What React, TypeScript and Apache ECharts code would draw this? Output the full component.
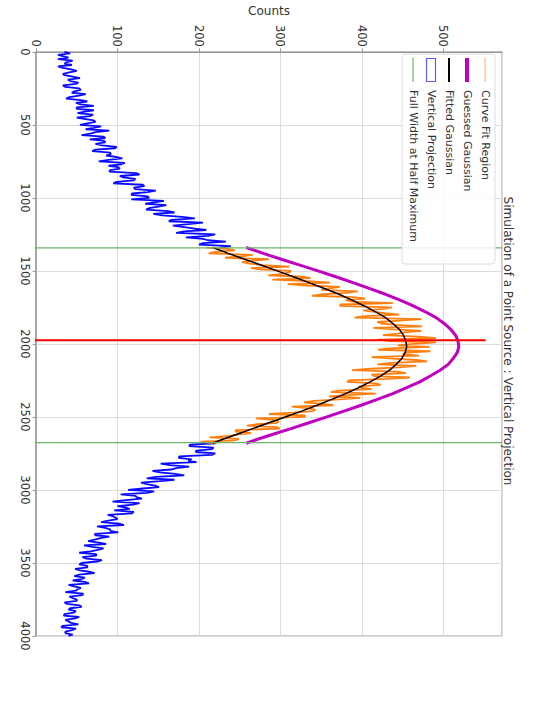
import React, { useEffect, useRef } from "react";
import * as echarts from "echarts";

// Histogram bins (position along the detector) — bin width and start of each region
const BIN_WIDTH = 10;
const LEFT_START = 0;
const FIT_START = 1340;
const RIGHT_START = 2680;

// Vertical projection counts, outside the curve-fit region (blue)
const projectionLeft = [
  35, 42, 27, 33, 40, 27, 45, 38, 35, 44, 27, 33, 43, 50, 41, 33, 35, 45, 54, 39,
  42, 52, 49, 33, 36, 53, 55, 47, 44, 61, 53, 41, 37, 55, 63, 49, 55, 71, 50, 50,
  71, 60, 51, 70, 66, 50, 61, 71, 73, 63, 54, 80, 71, 61, 90, 73, 67, 56, 83, 85,
  66, 84, 85, 73, 81, 99, 97, 73, 69, 91, 92, 86, 99, 106, 89, 77, 109, 105, 89, 101,
  103, 91, 90, 123, 127, 103, 107, 122, 120, 99, 95, 131, 133, 120, 122, 147, 137, 118, 117, 137,
  139, 117, 157, 145, 134, 160, 150, 139, 135, 162, 170, 144, 155, 179, 195, 166, 163, 205, 187, 168,
  182, 195, 209, 182, 172, 220, 211, 184, 205, 211, 233, 205, 200, 239, 226,
];
const projectionRight = [
  221, 189, 188, 218, 216, 197, 196, 220, 216, 176, 175, 191, 187, 197, 153, 164, 188, 172, 166, 143,
  152, 171, 182, 147, 136, 170, 152, 129, 136, 146, 151, 131, 113, 145, 136, 104, 122, 124, 130, 110,
  94, 127, 119, 100, 111, 115, 96, 120, 118, 88, 94, 98, 100, 89, 80, 102, 108, 75, 85, 91,
  91, 101, 72, 73, 90, 79, 72, 64, 77, 86, 59, 69, 83, 76, 67, 53, 74, 74, 57, 62,
  81, 75, 56, 53, 63, 63, 48, 54, 65, 72, 53, 47, 60, 56, 45, 60, 65, 40, 47, 55,
  51, 49, 36, 58, 57, 41, 45, 50, 50, 35, 38, 53, 56, 42, 40, 49, 46, 35, 34, 53,
  48, 36, 40, 43, 52, 33, 31, 49, 44, 36, 36, 45, 40,
];
// Curve fit region counts (orange)
const fitRegion = [
  209, 237, 244, 220, 212, 266, 252, 232, 286, 266, 253, 263, 278, 311, 264, 274, 313, 311, 302, 285,
  328, 337, 290, 334, 361, 309, 333, 373, 360, 350, 395, 380, 352, 339, 390, 404, 380, 388, 438, 374,
  373, 437, 427, 402, 415, 428, 446, 403, 391, 473, 446, 419, 424, 442, 474, 414, 440, 473, 453, 444,
  426, 469, 491, 420, 435, 491, 463, 444, 483, 434, 420, 484, 453, 450, 470, 412, 438, 467, 480, 436,
  419, 467, 445, 411, 388, 443, 454, 412, 415, 459, 431, 384, 382, 417, 423, 396, 400, 412, 372, 362,
  417, 382, 360, 398, 372, 341, 329, 353, 365, 314, 332, 343, 340, 316, 286, 330, 330, 270, 291, 298,
  296, 271, 259, 296, 299, 245, 245, 264, 248, 238, 213, 249, 244, 202, 222,
];

// Gaussian curves
const curvePositions = [
  1340, 1380, 1420, 1460, 1500, 1540, 1580, 1620, 1660, 1700, 1740, 1780,
  1820, 1860, 1900, 1940, 1980, 2020, 2060, 2100, 2140, 2180, 2220, 2260,
  2300, 2340, 2380, 2420, 2460, 2500, 2540, 2580, 2620, 2660, 2680,
];
const fittedGaussian = [
  217, 236, 256, 276, 296, 316, 335, 354, 372, 388, 403, 417,
  429, 438, 446, 451, 454, 455, 453, 449, 442, 434, 423, 410,
  396, 380, 363, 345, 326, 306, 286, 266, 246, 226, 217,
];
const guessedGaussian = [
  258, 279, 301, 324, 346, 368, 389, 409, 429, 447, 463, 478,
  491, 501, 509, 515, 518, 519, 517, 512, 506, 496, 484, 471,
  455, 438, 419, 399, 378, 357, 335, 313, 290, 268, 258,
];

// Markers
const fwhmPositions = [1342, 2676];
const centerPosition = 1975;

const COUNT_MIN = 0;
const COUNT_MAX = 572;
const POS_MIN = 0;
const POS_MAX = 4000;
const COUNT_TICKS = 100;
const POS_TICKS = 500;

const TITLE = "Simulation of a Point Source : Vertical Projection";
const legendItems = [
  "Curve Fit Region",
  "Guessed Gaussian",
  "Fitted Gaussian",
  "Vertical Projection",
  "Full Width at Half Maximum",
];

const FONT = "'DejaVu Sans', sans-serif";

function binPoints(start: number, values: number[]) {
  return values.map((v, i) => [v, start + i * BIN_WIDTH]);
}

export default function App() {
  const ref = useRef<HTMLDivElement>(null);
  useEffect(() => {
    if (!ref.current) return;
    const chart = echarts.init(ref.current, null, { renderer: "svg" });
    const lineBase = { type: "line", showSymbol: false, symbol: "none", silent: true };
    const outside = -44;
    const legendX = [485, 467, 449, 431, 413];
    const graphic: any[] = [
      {
        type: "rect",
        shape: { x: 402, y: 54, width: 93, height: 210, r: 3 },
        style: { fill: "rgba(255,255,255,0.85)", stroke: "#dcdcdc", lineWidth: 1 },
        z: 100,
      },
      { type: "line", shape: { x1: legendX[0], y1: 58, x2: legendX[0], y2: 82 }, style: { stroke: "rgba(255,127,14,0.45)", lineWidth: 1.5 }, z: 101 },
      { type: "line", shape: { x1: legendX[1], y1: 58, x2: legendX[1], y2: 82 }, style: { stroke: "#bf00bf", lineWidth: 4 }, z: 101 },
      { type: "line", shape: { x1: legendX[2], y1: 58, x2: legendX[2], y2: 82 }, style: { stroke: "#000", lineWidth: 2 }, z: 101 },
      { type: "rect", shape: { x: legendX[3] - 4.5, y: 58.5, width: 9, height: 23 }, style: { fill: "none", stroke: "#6060ff", lineWidth: 1.2 }, z: 101 },
      { type: "line", shape: { x1: legendX[4], y1: 58, x2: legendX[4], y2: 82 }, style: { stroke: "#6db36d", lineWidth: 1.2 }, z: 101 },
      ...legendItems.map((t, i) => ({
        type: "text",
        x: legendX[i],
        y: 90,
        rotation: -Math.PI / 2,
        style: { text: t, fontSize: 11, fontFamily: FONT, fill: "#333", align: "left", verticalAlign: "middle" },
        z: 102,
      })),
      {
        type: "text",
        x: 508,
        y: 341,
        rotation: -Math.PI / 2,
        style: { text: TITLE, fontSize: 12, fontFamily: FONT, fill: "#333", align: "center", verticalAlign: "middle" },
        z: 102,
      },
    ];
    const option: any = {
      animation: false,
      textStyle: { fontFamily: FONT },
      grid: { left: 36, top: 47, width: 466, height: 589, show: true, borderColor: "#999", borderWidth: 1 },
      xAxis: {
        type: "value",
        position: "top",
        min: COUNT_MIN,
        max: COUNT_MAX,
        interval: COUNT_TICKS,
        name: "Counts",
        nameLocation: "middle",
        nameGap: 34,
        nameTextStyle: { fontSize: 12, color: "#333", fontFamily: FONT },
        axisLine: { show: true, lineStyle: { color: "#999" } },
        axisTick: { show: true, length: 3.5, lineStyle: { color: "#999" } },
        axisLabel: { rotate: -90, fontSize: 11.5, color: "#333", showMaxLabel: false, margin: 5, fontFamily: FONT, formatter: (v: number) => String(v) },
        splitLine: { show: true, lineStyle: { color: "#dcdcdc" } },
      },
      yAxis: {
        type: "value",
        inverse: true,
        min: POS_MIN,
        max: POS_MAX,
        interval: POS_TICKS,
        axisLine: { show: true, lineStyle: { color: "#999", width: 1.5 } },
        axisTick: { show: true, length: 3.5, lineStyle: { color: "#999" } },
        axisLabel: { rotate: -90, fontSize: 11.5, color: "#333", margin: 5, fontFamily: FONT, formatter: (v: number) => String(v) },
        splitLine: { show: true, lineStyle: { color: "#dcdcdc" } },
      },
      graphic,
      series: [
        { ...lineBase, name: "Vertical Projection", data: binPoints(LEFT_START, projectionLeft), lineStyle: { color: "#0a0aff", width: 1.8 }, z: 2 },
        { ...lineBase, name: "Vertical Projection R", data: binPoints(RIGHT_START, projectionRight), lineStyle: { color: "#0a0aff", width: 1.8 }, z: 2 },
        { ...lineBase, name: "Curve Fit Region", data: binPoints(FIT_START, fitRegion), lineStyle: { color: "#ff7f0e", width: 1.8 }, z: 3 },
        { ...lineBase, name: "Fitted Gaussian", data: curvePositions.map((p, i) => [fittedGaussian[i], p]), lineStyle: { color: "#000", width: 1.5 }, z: 4 },
        { ...lineBase, name: "Guessed Gaussian", data: curvePositions.map((p, i) => [guessedGaussian[i], p]), lineStyle: { color: "#bf00bf", width: 3 }, z: 4 },
        ...fwhmPositions.map((p) => ({
          ...lineBase,
          name: "FWHM",
          clip: false,
          data: [[COUNT_MIN, p], [COUNT_MAX, p]],
          lineStyle: { color: "#6db36d", width: 1.2 },
          z: 5,
        })),
        ...fwhmPositions.map((p) => ({
          ...lineBase,
          name: "FWHM out",
          clip: false,
          data: [[outside, p], [COUNT_MIN, p]],
          lineStyle: { color: "#7cc242", width: 1.5 },
          z: 5,
        })),
        {
          ...lineBase,
          name: "Center",
          clip: false,
          data: [[outside, centerPosition], [552, centerPosition]],
          lineStyle: { color: "#ff0000", width: 2 },
          z: 6,
        },
      ],
    };
    chart.setOption(option);
    return () => chart.dispose();
  }, []);
  return (
    <div
      ref={ref}
      style={{ position: "fixed", left: 0, top: 0, width: 553, height: 702, background: "#fff" }}
    />
  );
}
